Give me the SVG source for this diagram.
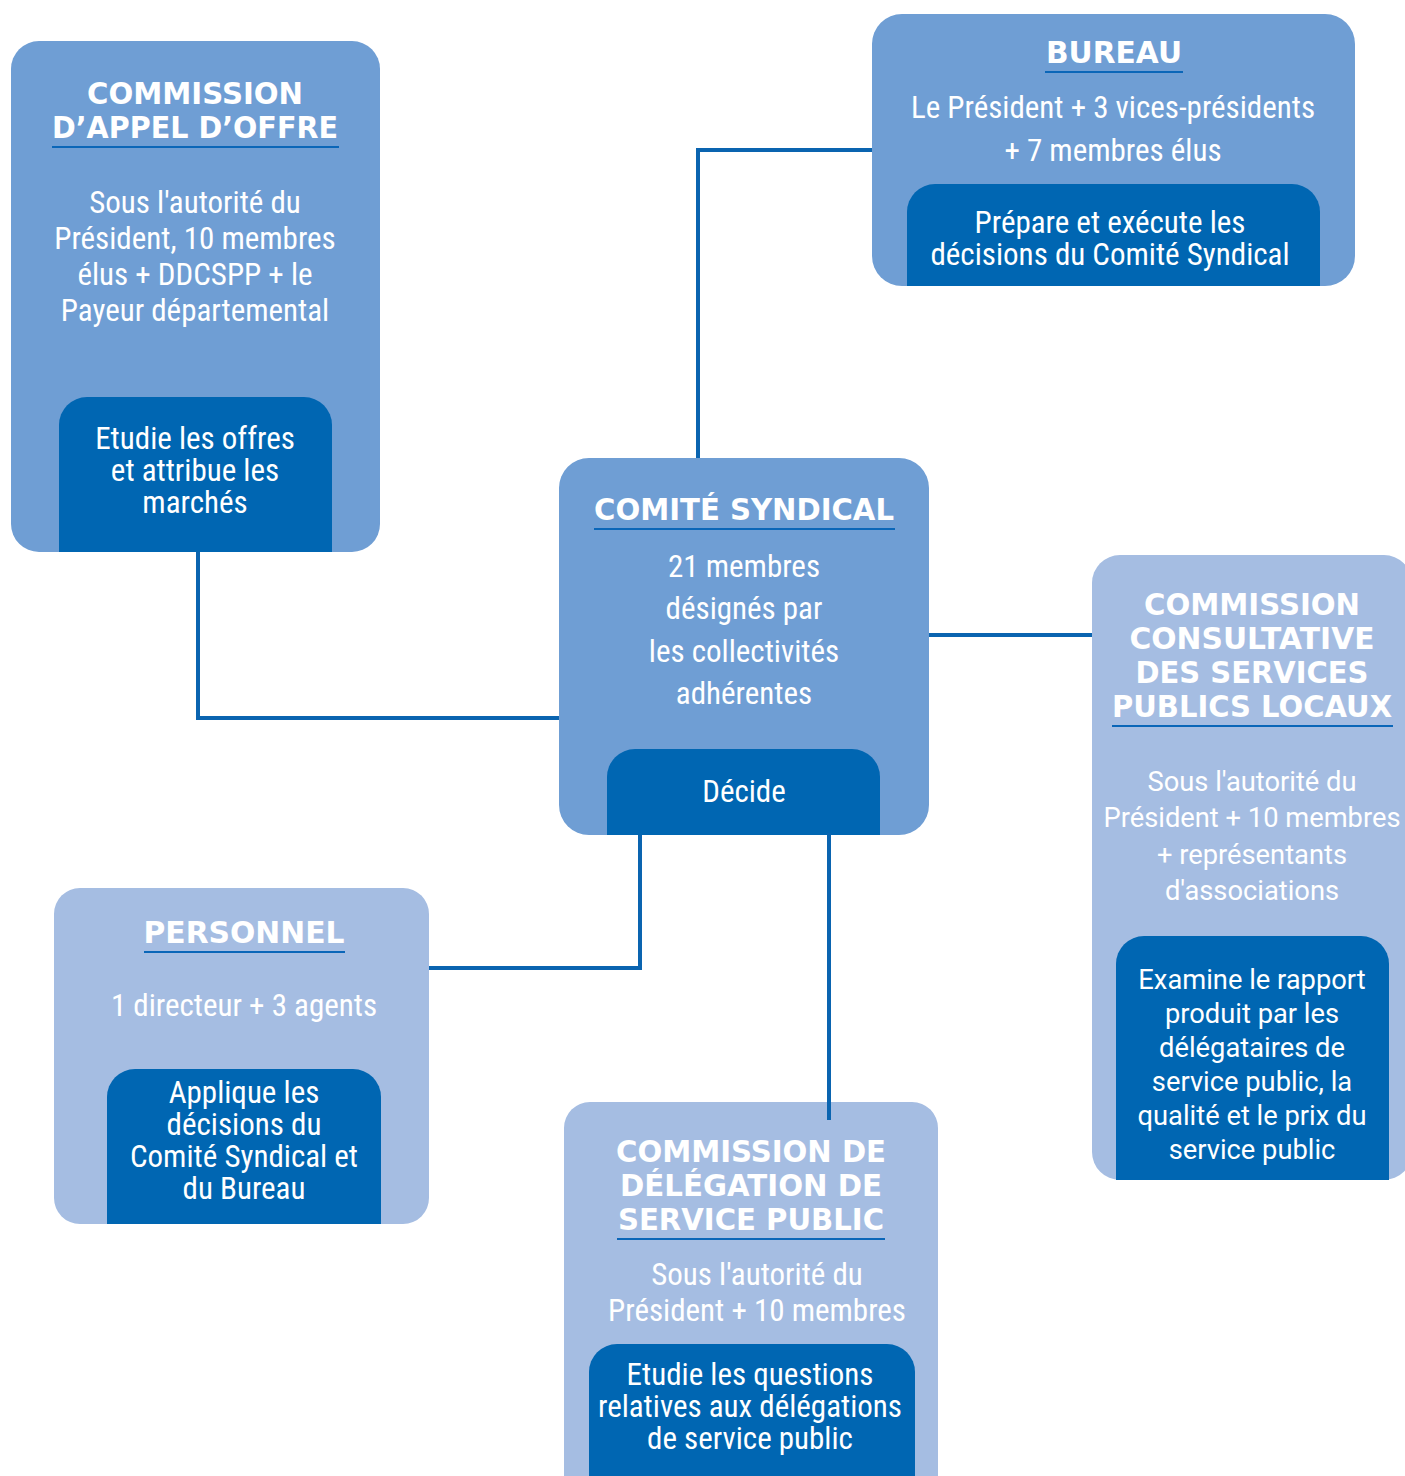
<svg xmlns="http://www.w3.org/2000/svg" width="1405" height="1476" viewBox="0 0 1405 1476">
<defs>
<style>
.mid{fill:#6f9ed4}
.light{fill:#a5bde2}
.dark{fill:#0066b2}
.t{font-family:"DejaVu Sans","Liberation Sans",sans-serif;font-weight:700;font-size:30px;fill:#fff;text-anchor:middle}
.b{font-family:"Roboto Condensed","Liberation Sans Narrow","DejaVu Sans Condensed",Roboto,sans-serif;font-stretch:condensed;font-size:31px;fill:#fff;text-anchor:middle}
.r{font-family:Roboto,"Liberation Sans",sans-serif;font-size:27.3px;fill:#fff;text-anchor:middle}
.ul{stroke:#0a66b8;stroke-width:2}
.c{fill:none;stroke:#0a64b0;stroke-width:4}
</style>
</defs>
<rect width="1405" height="1476" fill="#fff"/>
<g id="connectors">
<polyline class="c" points="198,552 198,718 560,718"/>
<polyline class="c" points="698,460 698,150 874,150"/>
<polyline class="c" points="928,635 1094,635"/>
<polyline class="c" points="640,833 640,968 428,968"/>
</g>
<g id="commission-appel-offre">
<rect class="mid" x="11" y="41" width="369" height="511" rx="28"/>
<text class="t" x="195" y="104" textLength="216" lengthAdjust="spacingAndGlyphs">COMMISSION</text>
<text class="t" x="195" y="138" textLength="286" lengthAdjust="spacingAndGlyphs">D’APPEL D’OFFRE</text>
<line class="ul" x1="52" y1="147" x2="339" y2="147"/>
<text class="b" x="195" y="213">Sous l'autorité du</text>
<text class="b" x="195" y="249">Président, 10 membres</text>
<text class="b" x="195" y="285">élus + DDCSPP + le</text>
<text class="b" x="195" y="321">Payeur départemental</text>
<path class="dark" d="M59,552V425a28,28 0 0 1 28,-28H304a28,28 0 0 1 28,28V552Z"/>
<text class="b" x="195" y="449">Etudie les offres</text>
<text class="b" x="195" y="481">et attribue les</text>
<text class="b" x="195" y="513">marchés</text>
</g>
<g id="bureau">
<rect class="mid" x="872" y="14" width="483" height="272" rx="30"/>
<text class="t" x="1114" y="63" textLength="136" lengthAdjust="spacingAndGlyphs">BUREAU</text>
<line class="ul" x1="1045" y1="72" x2="1183" y2="72"/>
<text class="b" x="1113" y="118">Le Président + 3 vices-présidents</text>
<text class="b" x="1113" y="161">+ 7 membres élus</text>
<path class="dark" d="M907,286V212a28,28 0 0 1 28,-28H1292a28,28 0 0 1 28,28V286Z"/>
<text class="b" x="1110" y="233">Prépare et exécute les</text>
<text class="b" x="1110" y="265">décisions du Comité Syndical</text>
</g>
<g id="comite-syndical">
<rect class="mid" x="559" y="458" width="370" height="377" rx="30"/>
<text class="t" x="744" y="520" textLength="300" lengthAdjust="spacingAndGlyphs">COMITÉ SYNDICAL</text>
<line class="ul" x1="594" y1="529" x2="895" y2="529"/>
<text class="b" x="744" y="577">21 membres</text>
<text class="b" x="744" y="619">désignés par</text>
<text class="b" x="744" y="662">les collectivités</text>
<text class="b" x="744" y="704">adhérentes</text>
<path class="dark" d="M607,835V777a28,28 0 0 1 28,-28H852a28,28 0 0 1 28,28V835Z"/>
<text class="b" x="744" y="802">Décide</text>
</g>
<g id="commission-consultative">
<rect class="light" x="1092" y="555" width="320" height="625" rx="28"/>
<text class="t" x="1252" y="615" textLength="216" lengthAdjust="spacingAndGlyphs">COMMISSION</text>
<text class="t" x="1252" y="649" textLength="245" lengthAdjust="spacingAndGlyphs">CONSULTATIVE</text>
<text class="t" x="1252" y="683" textLength="233" lengthAdjust="spacingAndGlyphs">DES SERVICES</text>
<text class="t" x="1252" y="717" textLength="280" lengthAdjust="spacingAndGlyphs">PUBLICS LOCAUX</text>
<line class="ul" x1="1112" y1="726" x2="1393" y2="726"/>
<text class="r" x="1252" y="791">Sous l'autorité du</text>
<text class="r" x="1252" y="827">Président + 10 membres</text>
<text class="r" x="1252" y="864">+ représentants</text>
<text class="r" x="1252" y="900">d'associations</text>
<path class="dark" d="M1116,1180V964a28,28 0 0 1 28,-28H1361a28,28 0 0 1 28,28V1180Z"/>
<text class="r" x="1252" y="989">Examine le rapport</text>
<text class="r" x="1252" y="1023">produit par les</text>
<text class="r" x="1252" y="1057">délégataires de</text>
<text class="r" x="1252" y="1091">service public, la</text>
<text class="r" x="1252" y="1125">qualité et le prix du</text>
<text class="r" x="1252" y="1159">service public</text>
</g>
<g id="personnel">
<rect class="light" x="54" y="888" width="375" height="336" rx="26"/>
<text class="t" x="244" y="943" textLength="201" lengthAdjust="spacingAndGlyphs">PERSONNEL</text>
<line class="ul" x1="144" y1="952" x2="345" y2="952"/>
<text class="b" x="244" y="1016">1 directeur + 3 agents</text>
<path class="dark" d="M107,1224V1097a28,28 0 0 1 28,-28H353a28,28 0 0 1 28,28V1224Z"/>
<text class="b" x="244" y="1103">Applique les</text>
<text class="b" x="244" y="1135">décisions du</text>
<text class="b" x="244" y="1167">Comité Syndical et</text>
<text class="b" x="244" y="1199">du Bureau</text>
</g>
<g id="commission-delegation">
<rect class="light" x="564" y="1102" width="374" height="420" rx="26"/>
<text class="t" x="751" y="1162" textLength="270" lengthAdjust="spacingAndGlyphs">COMMISSION DE</text>
<text class="t" x="751" y="1196" textLength="262" lengthAdjust="spacingAndGlyphs">DÉLÉGATION DE</text>
<text class="t" x="751" y="1230" textLength="266" lengthAdjust="spacingAndGlyphs">SERVICE PUBLIC</text>
<line class="ul" x1="617" y1="1239" x2="885" y2="1239"/>
<text class="b" x="757" y="1285">Sous l'autorité du</text>
<text class="b" x="757" y="1321">Président + 10 membres</text>
<path class="dark" d="M589,1476V1372a28,28 0 0 1 28,-28H887a28,28 0 0 1 28,28V1476Z"/>
<text class="b" x="750" y="1385">Etudie les questions</text>
<text class="b" x="750" y="1417">relatives aux délégations</text>
<text class="b" x="750" y="1449">de service public</text>
</g>
<g id="connectors-overlay">
<line class="c" x1="829" y1="833" x2="829" y2="1120"/>
</g>
</svg>
